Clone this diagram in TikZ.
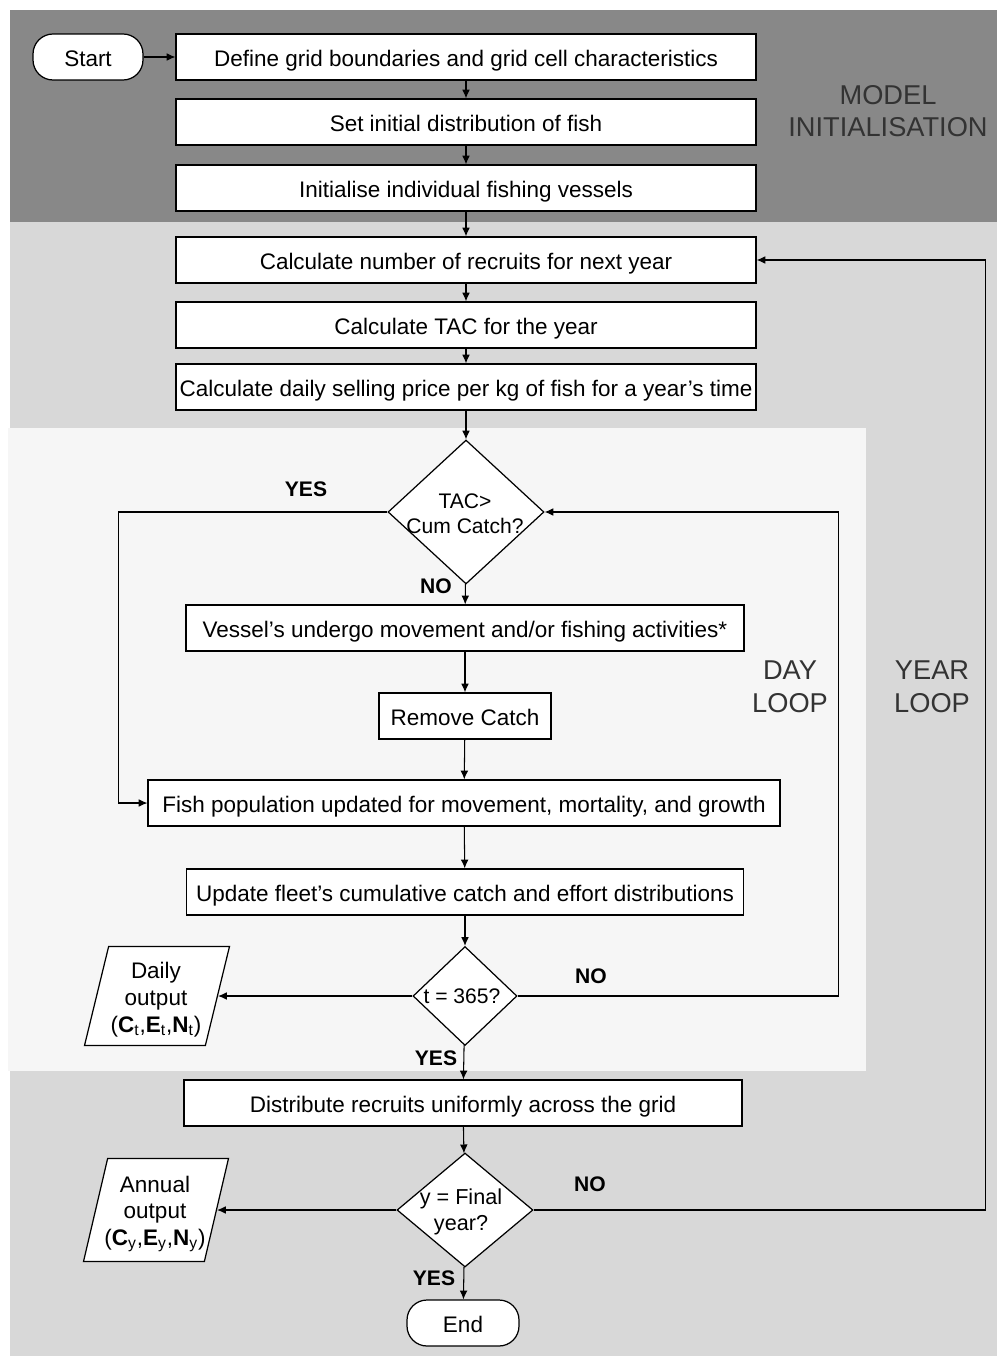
\documentclass[tikz,border=0pt]{standalone}
\usepackage{fontspec}
\setmainfont{Liberation Sans}
\usepackage{xcolor}
\usetikzlibrary{shapes.geometric,arrows.meta}

\definecolor{initgray}{RGB}{136,136,136}
\definecolor{yeargray}{RGB}{216,216,216}
\definecolor{daygray}{RGB}{246,246,246}

\begin{document}
\begin{tikzpicture}[x=0.02cm,y=-0.02cm,
  every node/.style={font=\fontsize{12.8}{15.3}\selectfont},
  box/.style={draw,fill=white,line width=0.7pt,minimum height=0.92cm,inner sep=2pt,
    text height=11.2pt,text depth=0.4pt},
  term/.style={box,rounded corners=0.4cm},
  dec/.style={draw,fill=white,diamond,inner sep=0pt,line width=0.7pt},
  io/.style={draw,fill=white,trapezium,trapezium left angle=76,trapezium right angle=104,
    trapezium stretches=true,inner sep=2pt,line width=0.7pt,minimum width=2.9cm},
  arr/.style={-{Latex[length=5pt,width=4.4pt]},line width=0.6pt},
  ans/.style={font=\fontsize{12}{14}\selectfont\bfseries},
  zone/.style={font=\fontsize{15.5}{18.5}\selectfont,align=center,text=black!80}]
\useasboundingbox (0,0) rectangle (997,1362);

\fill[white] (0,0) rectangle (997,1362);
\fill[yeargray] (10,222) rectangle (997,1356);
\fill[initgray] (10,10) rectangle (997,222);
\fill[daygray] (8,428) rectangle (866,1071);

\node[zone] (init) at (888,111) {MODEL\\INITIALISATION};
\node[zone] (dayloop) at (790,687) {DAY\\LOOP};
\node[zone] (yearloop) at (932,687) {YEAR\\LOOP};

\node[term,minimum width=2.2cm] (start) at (88,57) {Start};
\node[box,minimum width=11.6cm] (grid) at (466,57) {Define grid boundaries and grid cell characteristics};
\node[box,minimum width=11.6cm] (fish) at (466,122) {Set initial distribution of fish};
\node[box,minimum width=11.6cm] (vessels) at (466,188) {Initialise individual fishing vessels};
\node[box,minimum width=11.6cm] (recruits) at (466,260) {Calculate number of recruits for next year};
\node[box,minimum width=11.6cm] (tac) at (466,325) {Calculate TAC for the year};
\node[box,minimum width=11.6cm] (price) at (466,387) {Calculate daily selling price per kg of fish for a year's time};

\node[dec,minimum width=3.12cm,minimum height=2.88cm] (catch) at (466,512) {};
\node[align=center,font=\fontsize{12}{14}\selectfont] (catchtxt) at (465,514) {TAC>\\Cum Catch?};
\node[box,minimum width=11.16cm] (move) at (465,628) {Vessel's undergo movement and/or fishing activities*};
\node[box,minimum width=3.44cm] (remove) at (465,716) {Remove Catch};
\node[box,minimum width=12.64cm] (update) at (464,803) {Fish population updated for movement, mortality, and growth};
\node[box,minimum width=11.14cm] (fleet) at (465,892) {Update fleet's cumulative catch and effort distributions};
\node[dec,minimum width=2.08cm,minimum height=1.98cm] (day) at (465,996) {};
\node[font=\fontsize{12}{14}\selectfont] (daytxt) at (462,996) {t = 365?};
\node[box,minimum width=11.16cm] (spread) at (463,1103) {Distribute recruits uniformly across the grid};
\node[dec,minimum width=2.72cm,minimum height=2.28cm] (year) at (465,1210) {};
\node[align=center,font=\fontsize{12.3}{14.5}\selectfont] (yeartxt) at (461,1212) {y = Final\\year?};
\node[term,minimum width=2.24cm] (end) at (463,1323) {End};

\node[io,minimum height=1.98cm] (daily) at (157,996) {};
\node[align=center] (dailytxt) at (156,1000)
  {Daily\\output\\(\textbf{C}\textsubscript{t},\textbf{E}\textsubscript{t},\textbf{N}\textsubscript{t})};
\node[io,minimum height=2.06cm] (annual) at (156,1210) {};
\node[align=center] (annualtxt) at (155,1214)
  {Annual\\output\\(\textbf{C}\textsubscript{y},\textbf{E}\textsubscript{y},\textbf{N}\textsubscript{y})};

\node[ans] (yes1) at (306,489) {YES};
\node[ans] (no1) at (436,586) {NO};
\node[ans] (no2) at (591,976) {NO};
\node[ans] (yes2) at (436,1058) {YES};
\node[ans] (no3) at (590,1184) {NO};
\node[ans] (yes3) at (434,1278) {YES};

\draw[arr] (start) -- (grid);
\draw[arr] (grid) -- (fish);
\draw[arr] (fish) -- (vessels);
\draw[arr] (vessels) -- (recruits);
\draw[arr] (recruits) -- (tac);
\draw[arr] (tac) -- (price);
\draw[arr] (price) -- (catch);
\draw[arr] (catch) -- (move);
\draw[arr] (move) -- (remove);
\draw[arr] (remove) -- (update);
\draw[arr] (update) -- (fleet);
\draw[arr] (fleet) -- (day);
\draw[arr] (day) -- (spread);
\draw[arr] (spread) -- (year);
\draw[arr] (year) -- (end);
\draw[arr] (day.west) -- (daily);
\draw[arr] (year.west) -- (annual);

\draw[arr] (catch.west) -- ++(-269,0) |- (update.west);
\draw[arr] (day.east) -- ++(321,0) |- (catch.east);
\draw[arr] (year.east) -- ++(452,0) |- (recruits.east);
\end{tikzpicture}
\end{document}
